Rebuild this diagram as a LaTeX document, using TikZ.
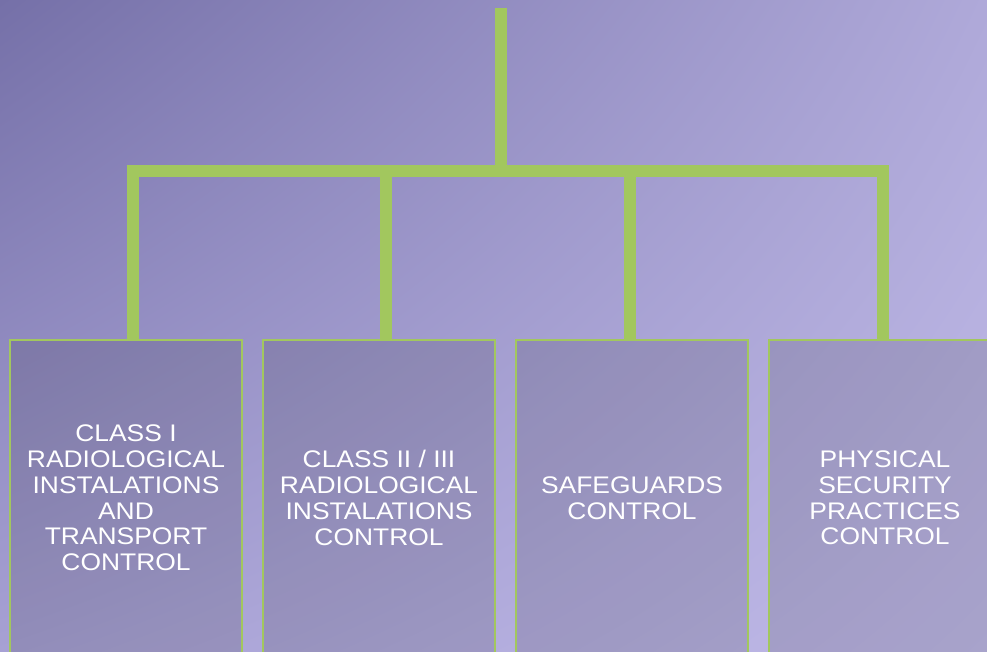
\documentclass[tikz,border=0pt]{standalone}
\usepackage{fontspec}
\newfontfamily\boxfont[FakeStretch=1.1]{Liberation Sans}
\usetikzlibrary{positioning,shadings}
\definecolor{leaf}{HTML}{A2C75E}
\definecolor{bgul}{HTML}{7570A8}
\definecolor{bgur}{HTML}{AFA9D9}
\definecolor{bgll}{HTML}{A7A1D4}
\definecolor{bglr}{HTML}{C0BAE8}

\begin{document}
\begin{tikzpicture}[x=1pt,y=-1pt,
    branch/.style={draw=leaf, line width=12pt, line join=miter},
    unit/.style={draw=leaf, line width=2pt, fill=black, fill opacity=0.12, text opacity=1,
        text=white, minimum width=232pt, minimum height=316pt, inner sep=0pt, outer sep=0pt,
        align=center, font=\boxfont\fontsize{24}{25.8}\selectfont}]
    \useasboundingbox (0,0) rectangle (987,652);
    \clip (0,0) rectangle (987,652);
    \shade[upper left=bgul, upper right=bgur, lower left=bgll, lower right=bglr] (0,0) rectangle (987,652);
    %
    \node[unit, anchor=north] (v1) at (126,340) {CLASS I\\RADIOLOGICAL\\INSTALATIONS\\AND\\TRANSPORT\\CONTROL};
    \node[unit, right=21pt of v1] (v2) {CLASS II / III\\RADIOLOGICAL\\INSTALATIONS\\CONTROL};
    \node[unit, right=21pt of v2] (v3) {SAFEGUARDS\\CONTROL};
    \node[unit, right=21pt of v3] (v4) {PHYSICAL\\SECURITY\\PRACTICES\\CONTROL};
    %
    \coordinate (c) at (501,8);
    \coordinate (hub) at (501,171);
    \coordinate (j1) at (133,171);
    \coordinate (j2) at (386,171);
    \coordinate (j3) at (630,171);
    \coordinate (j4) at (883,171);
    %
    \draw[branch] (c) -- (hub);
    \draw[branch] (j1 |- v1.north) -- (j1) -- (j4) -- (j4 |- v4.north);
    \draw[branch] (j2) -- (j2 |- v2.north);
    \draw[branch] (j3) -- (j3 |- v3.north);
\end{tikzpicture}
\end{document}
